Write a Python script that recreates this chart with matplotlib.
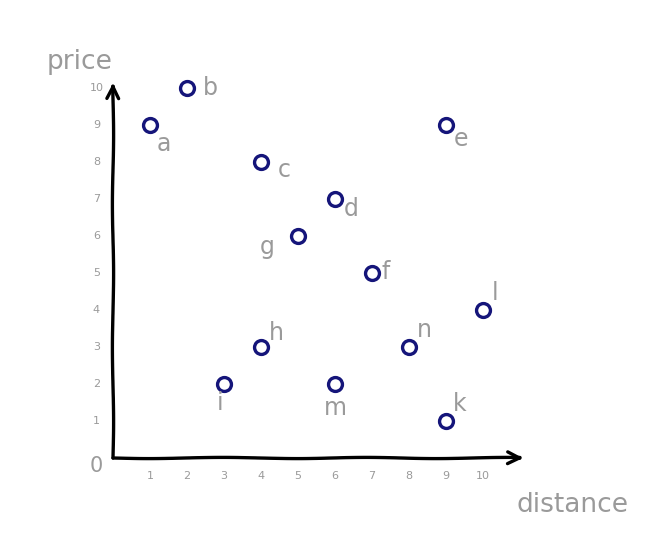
import matplotlib
matplotlib.use('Agg')
import matplotlib.pyplot as plt
import numpy as np

# data
names = ['a', 'b', 'c', 'd', 'e', 'f', 'g', 'h', 'i', 'k', 'l', 'm', 'n']
distance = [1, 2, 4, 6, 9, 7, 5, 4, 3, 9, 10, 6, 8]
price = [9, 10, 8, 7, 9, 5, 6, 3, 2, 1, 4, 2, 3]
ticks = [1, 2, 3, 4, 5, 6, 7, 8, 9, 10]

# where each letter sits relative to its circle (points)
label_offsets = {
    'a': (10, -14), 'b': (17, 0), 'c': (17, -6), 'd': (12, -7), 'e': (11, -10),
    'f': (10, 1), 'g': (-22, -8), 'h': (11, 10), 'i': (-3, -14), 'k': (10, 12),
    'l': (9, 12), 'm': (0, -17), 'n': (11, 12),
}

plt.rcParams['path.sketch'] = (0.6, 150, 1.5)
grey = '#9a9a9a'
navy = '#15157a'

fig = plt.figure(figsize=(6.56, 5.43), dpi=100)
# origin of the axes at about (113, 458) px, ~37 px per unit
ax = fig.add_axes([113 / 656, (543 - 458) / 543, 11.2 * 37 / 656, 10.3 * 37 / 543])
ax.set_xlim(0, 11.2)
ax.set_ylim(0, 10.3)
ax.axis('off')

# hand drawn axes
ax.annotate('', xy=(11.1, 0), xytext=(0, 0),
            arrowprops=dict(arrowstyle='->', color='black', lw=2.4, mutation_scale=22,
                            shrinkA=0, shrinkB=0), annotation_clip=False)
ax.annotate('', xy=(0, 10.15), xytext=(0, 0),
            arrowprops=dict(arrowstyle='->', color='black', lw=2.4, mutation_scale=22,
                            shrinkA=0, shrinkB=0), annotation_clip=False)

for t in ticks:
    ax.annotate(str(t), (t, 0), xytext=(0, -13), textcoords='offset points',
                ha='center', va='center', color=grey, fontsize=8, annotation_clip=False)
    ax.annotate(str(t), (0, t), xytext=(-12, 0), textcoords='offset points',
                ha='center', va='center', color=grey, fontsize=8, annotation_clip=False)
ax.annotate('0', (0, 0), xytext=(-12, -6), textcoords='offset points',
            ha='center', va='center', color=grey, fontsize=15, annotation_clip=False)

ax.plot(distance, price, 'o', ms=10, mfc='none', mec=navy, mew=2.4, clip_on=False)

for n, x, y in zip(names, distance, price):
    ax.annotate(n, (x, y), xytext=label_offsets[n], textcoords='offset points',
                ha='center', va='center', color=grey, fontsize=17)

fig.text(80 / 656, 1 - 62 / 543, 'price', color=grey, fontsize=19, ha='center', va='center')
fig.text(572 / 656, 1 - 505 / 543, 'distance', color=grey, fontsize=19, ha='center', va='center')

fig.savefig('out.png', dpi=100)
